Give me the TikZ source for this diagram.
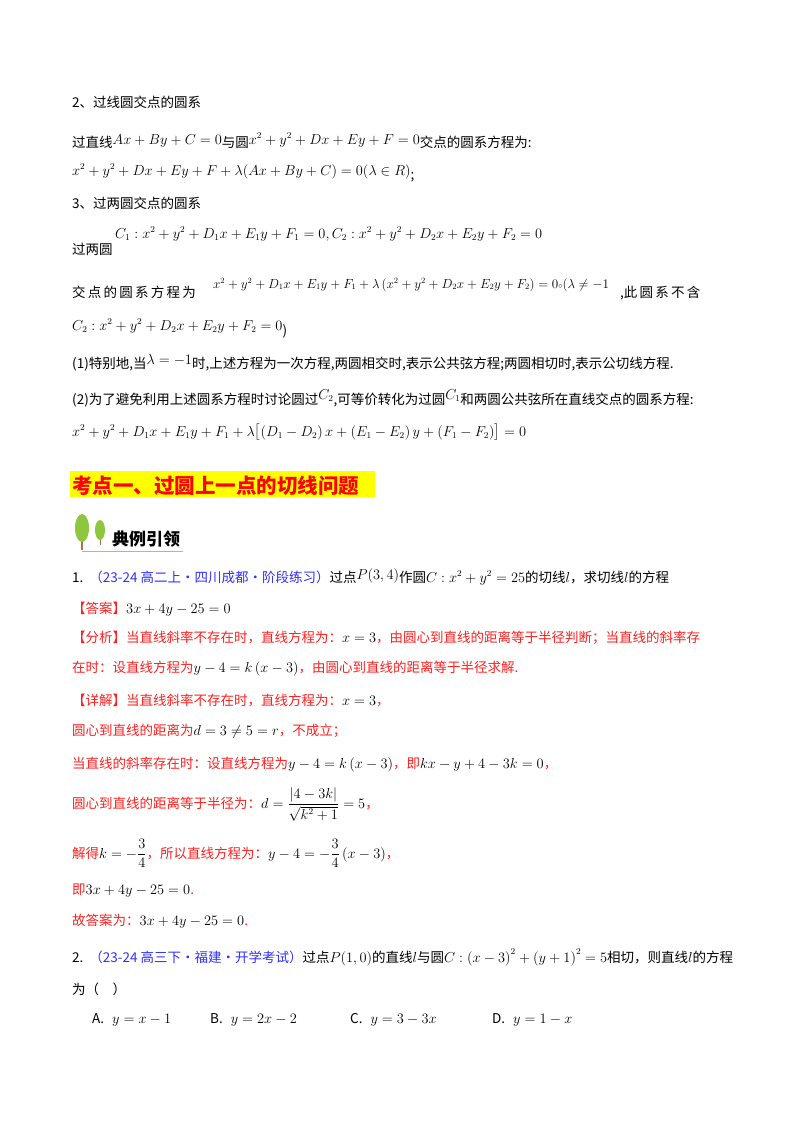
\documentclass[tikz,border=0pt]{standalone}
\usepackage{amsmath,amssymb}
\usepackage{fontspec}
\setmainfont{Noto Sans CJK SC}
\definecolor{myred}{HTML}{FF2020}
\definecolor{myblue}{HTML}{3030FF}
\definecolor{hl}{HTML}{FFFF00}
\definecolor{leaf}{HTML}{8DC63F}
\definecolor{trunk}{HTML}{B07050}
\begin{document}
\begin{tikzpicture}[x=1pt,y=-1pt,
  ln/.style={anchor=base west,inner sep=0pt,font=\fontsize{13.5}{16}\selectfont},
  rd/.style={ln,text=myred}]
\useasboundingbox (0,0) rectangle (800,1132);
\fill[white] (0,0) rectangle (800,1132);
\node[ln] (a1) at (72,107) {2、过线圆交点的圆系};
\node[ln] (a2) at (72,147) {过直线\raisebox{3pt}{$Ax+By+C=0$}与圆\raisebox{3pt}{$x^2+y^2+Dx+Ey+F=0$}交点的圆系方程为:};
\node[ln] (a3) at (72,175) {$x^2+y^2+Dx+Ey+F+\lambda(Ax+By+C)=0(\lambda\in R)$\raisebox{-4pt}{;}};
\node[ln] (a4) at (72,208) {3、过两圆交点的圆系};
\node[ln] (a5) at (115,238) {$C_1:x^2+y^2+D_1x+E_1y+F_1=0,C_2:x^2+y^2+D_2x+E_2y+F_2=0$};
\node[ln] (a6) at (72,254) {过两圆};
\node[ln] (a7) at (72,297) {交\,点\,的\,圆\,系\,方\,程\,为};
\node[ln] (a7b) at (213,288) {\scalebox{0.91}{$x^2+y^2+D_1x+E_1y+F_1+\lambda\left(x^2+y^2+D_2x+E_2y+F_2\right)=0{\scriptstyle\circ}(\lambda\neq-1$}};
\node[ln] (a7c) at (620,297) {,此\,圆\,系\,不\,含};
\node[ln] (a8) at (72,330) {$C_2:x^2+y^2+D_2x+E_2y+F_2=0$\raisebox{-5pt}{)}};
\node[ln] (a9) at (72,368) {(1)特别地,当\raisebox{4pt}{$\lambda=-1$}时,上述方程为一次方程,两圆相交时,表示公共弦方程;两圆相切时,表示公切线方程.};
\node[ln] (a10) at (72,404) {(2)为了避免利用上述圆系方程时讨论圆过\raisebox{5pt}{$C_2$},可等价转化为过圆\raisebox{5pt}{$C_1$}和两圆公共弦所在直线交点的圆系方程:};
\node[ln] (a11) at (72,436) {$x^2+y^2+D_1x+E_1y+F_1+\lambda\bigl[\left(D_1-D_2\right)x+\left(E_1-E_2\right)y+\left(F_1-F_2\right)\bigr]=0$};
% heading
\fill[hl] (70,471) rectangle (375,497);
\node[ln,font=\fontsize{20.5}{22}\selectfont\bfseries,text=red] (h) at (72,493) {考点一、过圆上一点的切线问题};
% icon
\draw[trunk,line width=1.5pt] (82,550) -- (82,530);
\draw[trunk,line width=1pt] (100,545) -- (100,530);
\fill[leaf] (82,528) ellipse (7 and 14);
\fill[leaf] (100,530) ellipse (5 and 10);
\draw[gray!60,line width=1pt] (82,551) -- (183,551);
\node[ln,font=\fontsize{17}{20}\selectfont\bfseries] (ic) at (112,545) {典例引领};
% problem 1
\node[ln] (p1) at (72,582) {1.\hspace{6pt}{\color{myblue}（23-24 高二上·四川成都·阶段练习）}过点\raisebox{3pt}{$P\!\left(3,4\right)$}作圆$C:x^2+y^2=25$的切线$l$，求切线$l$的方程};
\node[rd] (p2) at (72,613) {【答案】{\color{black}$3x+4y-25=0$}};
\node[rd] (p3) at (72,642) {【分析】当直线斜率不存在时，直线方程为：{\color{black}$x=3$}，由圆心到直线的距离等于半径判断；当直线的斜率存};
\node[rd] (p4) at (72,672) {在时：设直线方程为{\color{black}$y-4=k\left(x-3\right)$}，由圆心到直线的距离等于半径求解.};
\node[rd] (p5) at (72,705) {【详解】当直线斜率不存在时，直线方程为：{\color{black}$x=3$}，};
\node[rd] (p6) at (72,735) {圆心到直线的距离为{\color{black}$d=3\neq5=r$}，不成立；};
\node[rd] (p7) at (72,768) {当直线的斜率存在时：设直线方程为{\color{black}$y-4=k\left(x-3\right)$}，即{\color{black}$kx-y+4-3k=0$}，};
\node[rd] (p8) at (72,808) {圆心到直线的距离等于半径为：{\color{black}$d=\dfrac{\left|4-3k\right|}{\sqrt{k^2+1}}=5$}，};
\node[rd] (p9) at (72,858) {解得{\color{black}$k=-\dfrac{3}{4}$}，所以直线方程为：{\color{black}$y-4=-\dfrac{3}{4}\left(x-3\right)$}，};
\node[rd] (p10) at (72,894) {即{\color{black}$3x+4y-25=0$}.};
\node[rd] (p11) at (72,925) {故答案为：{\color{black}$3x+4y-25=0$}.};
\node[ln] (q1) at (72,962) {2.\hspace{6pt}{\color{myblue}（23-24 高三下·福建·开学考试）}过点$P\!\left(1,0\right)$的直线$l$与圆$C:\left(x-3\right)^2+\left(y+1\right)^2=5$相切，则直线$l$的方程};
\node[ln] (q2) at (72,994) {为（\quad）};
\node[ln] (qa) at (92,1023) {A.\hspace{8pt}$y=x-1$};
\node[ln] (qb) at (210,1023) {B.\hspace{8pt}$y=2x-2$};
\node[ln] (qc) at (350,1023) {C.\hspace{8pt}$y=3-3x$};
\node[ln] (qd) at (492,1023) {D.\hspace{8pt}$y=1-x$};
\end{tikzpicture}
\end{document}
